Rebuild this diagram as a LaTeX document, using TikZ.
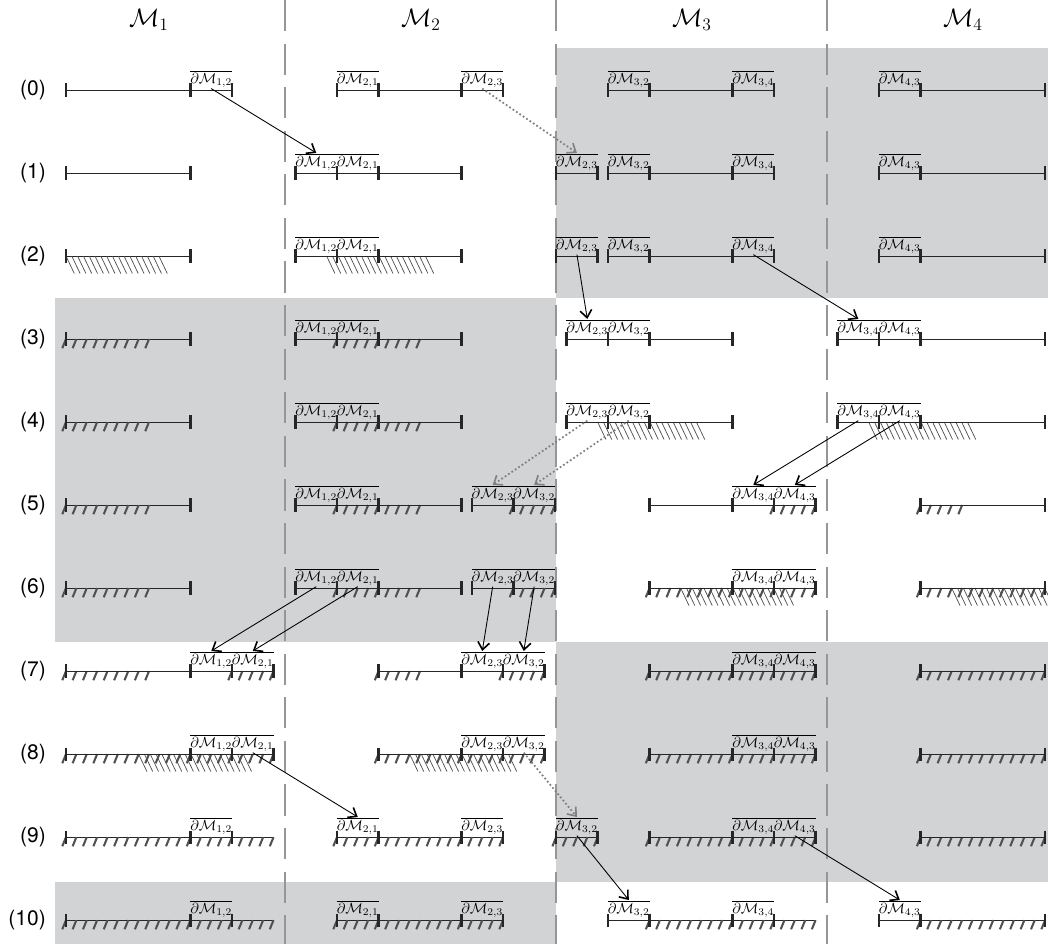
\documentclass[tikz,border=0pt]{standalone}
\usepackage{fontspec}
\setsansfont{TeX Gyre Heros}
\usepackage{amsmath}
\usetikzlibrary{arrows.meta}
\definecolor{blockgray}{RGB}{209,211,212}
\definecolor{divgray}{RGB}{150,150,150}
\definecolor{hatchgray}{RGB}{80,80,80}

\tikzset{
  segline/.style={line width=0.7pt, black!85},
  tickmk/.style={line width=1.7pt, black!85},
  dlab/.style={anchor=south, inner sep=0.3pt, yshift=1pt},
  hatchheavy/.style={line width=1.4pt, hatchgray},
  hatchlight/.style={line width=0.5pt, hatchgray},
  link/.style={line width=0.6pt, -{Straight Barb[length=1.8mm,width=2.8mm,line width=1.1pt]}},
  linkdot/.style={link, gray, line width=1.2pt, dash pattern=on 1.2pt off 1.6pt},
  divider/.style={divgray, line width=1.3pt, dash pattern=on 0.75cm off 0.3cm},
  rowlab/.style={anchor=east, inner sep=0pt, font=\sffamily\Large},
  head/.style={font=\LARGE},
}

%% segment, tick marks, interface labels, hatching (row r sits at y=-2r)
\newcommand{\seg}[3]{\draw[segline] (#1,{-2*#3}) -- (#2,{-2*#3});}
\newcommand{\tk}[2]{\draw[tickmk] (#1,{-2*#2+0.16}) -- (#1,{-2*#2-0.16});}
\newcommand{\tks}[2]{\foreach \tx in {#1}{\tk{\tx}{#2}}}
\newcommand{\blab}[4]{\node[dlab] (d#1#2r#4) at ({#3+0.5},{-2*#4}) {$\overline{\partial\mathcal{M}_{#1,#2}}$};}
\newcommand{\hatchH}[3]{\pgfmathtruncatemacro\nh{round(((#2)-(#1))/0.25)}%
  \foreach \i in {0,...,\nh}{\draw[hatchheavy] ({#1+0.25*\i},{-2*#3}) -- ++(-0.09,-0.22);}}
\newcommand{\hatchL}[3]{\pgfmathtruncatemacro\nl{round(((#2)-(#1))/0.14)}%
  \foreach \i in {0,...,\nl}{\draw[hatchlight] ({#1+0.14*\i},{-2*#3}) -- ++(0.2,-0.42);}}

\begin{document}
\begin{tikzpicture}
    \useasboundingbox (-1.59,2.17) rectangle (23.66,-20.58);

    %% shaded blocks
    \fill[blockgray] (11.81,1.01) rectangle (23.66,-5);
    \fill[blockgray] (-0.27,-5) rectangle (11.81,-13.3);
    \fill[blockgray] (11.81,-13.3) rectangle (23.66,-19.07);
    \fill[blockgray] (-0.27,-19.07) rectangle (11.81,-20.58);

    %% column dividers
    \foreach \dx in {5.28,11.81,18.34}
        \draw[divider] (\dx,2.17) -- (\dx,-20.58);

    %% headers and row numbers
    \node[head] (hM1) at (2,1.69) {$\mathcal{M}_1$};
    \node[head] (hM2) at (8.55,1.69) {$\mathcal{M}_2$};
    \node[head] (hM3) at (15.08,1.69) {$\mathcal{M}_3$};
    \node[head] (hM4) at (21.61,1.69) {$\mathcal{M}_4$};
    \foreach \rw in {0,...,10}
        \node[rowlab] (row\rw) at (-0.48,{-2*\rw}) {(\rw)};

    %% M1
    \seg{0}{4}{0} \tks{0,3,4}{0} \blab{1}{2}{3}{0}
    \seg{0}{3}{1} \tks{0,3}{1}
    \seg{0}{3}{2} \hatchL{0}{2.2}{2} \tks{0,3}{2}
    \foreach \rw in {3,...,6}{\seg{0}{3}{\rw} \hatchH{0}{2}{\rw} \tks{0,3}{\rw}}
    \hatchH{0}{2}{7} \hatchH{4}{5}{7}
    \hatchH{0}{5}{8} \hatchL{1.75}{4.3}{8}
    \foreach \rw in {7,8}{\seg{0}{5}{\rw} \tks{0,3,4,5}{\rw} \blab{1}{2}{3}{\rw} \blab{2}{1}{4}{\rw}}
    \foreach \rw in {9,10}{\seg{0}{5}{\rw} \hatchH{0}{5}{\rw} \tks{0,3,4}{\rw} \blab{1}{2}{3}{\rw}}

    %% M2
    \begin{scope}[xshift=6.53cm]
    \seg{0}{4}{0} \tks{0,1,3,4}{0} \blab{2}{1}{0}{0} \blab{2}{3}{3}{0}
    \hatchL{-0.25}{2.2}{2}
    \foreach \rw in {3,...,6}{\hatchH{0}{2}{\rw}}
    \foreach \rw in {1,...,6}{\seg{-1}{3}{\rw} \tks{-1,0,1,3}{\rw} \blab{1}{2}{-1}{\rw} \blab{2}{1}{0}{\rw}}
    \foreach \rw in {5,6}{\seg{3.25}{5.25}{\rw} \hatchH{4.25}{5.25}{\rw} \tks{3.25,4.25,5.25}{\rw}
        \blab{2}{3}{3.25}{\rw} \blab{3}{2}{4.25}{\rw}}
    \hatchH{1}{2}{7} \hatchH{4}{5}{7}
    \hatchH{1}{5}{8} \hatchL{1.75}{4.2}{8}
    \foreach \rw in {7,8}{\seg{1}{5}{\rw} \tks{1,3,4,5}{\rw} \blab{2}{3}{3}{\rw} \blab{3}{2}{4}{\rw}}
    \foreach \rw in {9,10}{\seg{0}{4}{\rw} \hatchH{0}{4}{\rw} \tks{0,1,3,4}{\rw} \blab{2}{1}{0}{\rw} \blab{2}{3}{3}{\rw}}
    \end{scope}

    %% M3
    \begin{scope}[xshift=13.06cm]
    \foreach \rw in {0,1,2}{\seg{0}{4}{\rw} \tks{0,1,3,4}{\rw} \blab{3}{2}{0}{\rw} \blab{3}{4}{3}{\rw}}
    \foreach \rw in {1,2}{\seg{-1.25}{-0.25}{\rw} \tks{-1.25,-0.25}{\rw} \blab{2}{3}{-1.25}{\rw}}
    \hatchL{-0.25}{2.2}{4}
    \foreach \rw in {3,4}{\seg{-1}{3}{\rw} \tks{-1,0,1,3}{\rw} \blab{2}{3}{-1}{\rw} \blab{3}{2}{0}{\rw}}
    \hatchH{4}{5}{5}
    \foreach \rw in {6,...,9}{\hatchH{1}{5}{\rw}}
    \hatchL{1.75}{4.25}{6}
    \foreach \rw in {5,...,9}{\seg{1}{5}{\rw} \tks{1,3,4,5}{\rw} \blab{3}{4}{3}{\rw} \blab{4}{3}{4}{\rw}}
    \seg{-1.25}{-0.25}{9} \hatchH{-1.25}{-0.25}{9} \tks{-1.25,-0.25}{9} \blab{3}{2}{-1.25}{9}
    \seg{0}{5}{10} \hatchH{1}{5}{10} \tks{0,1,3,4}{10} \blab{3}{2}{0}{10} \blab{3}{4}{3}{10}
    \end{scope}

    %% M4
    \begin{scope}[xshift=19.59cm]
    \foreach \rw in {0,1,2}{\seg{0}{4}{\rw} \tks{0,1,4}{\rw} \blab{4}{3}{0}{\rw}}
    \hatchL{-0.25}{2.2}{4}
    \foreach \rw in {3,4}{\seg{-1}{4}{\rw} \tks{-1,0,1,4}{\rw} \blab{3}{4}{-1}{\rw} \blab{4}{3}{0}{\rw}}
    \hatchH{1}{2}{5}
    \foreach \rw in {6,...,9}{\hatchH{1}{4}{\rw}}
    \hatchL{1.75}{4.4}{6}
    \foreach \rw in {5,...,9}{\seg{1}{4}{\rw} \tks{1,4}{\rw}}
    \seg{0}{4}{10} \hatchH{1}{4}{10} \tks{0,1,4}{10} \blab{4}{3}{0}{10}
    \end{scope}

    %% exchanges between rows
    \draw[link] (d12r0.south) -- (d12r1.north);
    \draw[linkdot] (d23r0.south) -- (d23r1.north);
    \draw[link] (d23r2.south) -- (d23r3.north);
    \draw[link] (d34r2.south) -- (d34r3.north);
    \draw[linkdot] (d23r4.south) -- (d23r5.north);
    \draw[linkdot] (d32r4.south) -- (d32r5.north);
    \draw[link] (d34r4.south) -- (d34r5.north);
    \draw[link] (d43r4.south) -- (d43r5.north);
    \draw[link] (d12r6.south) -- (d12r7.north);
    \draw[link] (d21r6.south) -- (d21r7.north);
    \draw[link] (d23r6.south) -- (d23r7.north);
    \draw[link] (d32r6.south) -- (d32r7.north);
    \draw[link] (d21r8.south) -- (d21r9.north);
    \draw[linkdot] (d32r8.south) -- (d32r9.north);
    \draw[link] (d32r9.south) -- (d32r10.north);
    \draw[link] (d43r9.south) -- (d43r10.north);
\end{tikzpicture}
\end{document}
